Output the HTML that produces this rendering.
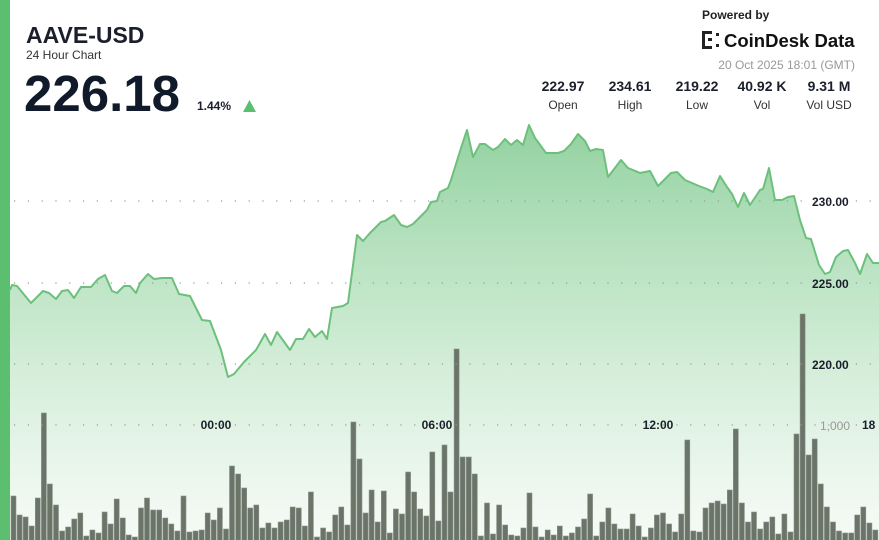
<!DOCTYPE html>
<html><head><meta charset="utf-8"><style>
html,body{margin:0;padding:0;width:879px;height:540px;overflow:hidden;background:#fff;font-family:"Liberation Sans",sans-serif}
svg{position:absolute;left:0;top:0}
</style></head><body>
<svg id="s" width="879" height="540" xmlns="http://www.w3.org/2000/svg">
<defs>
<linearGradient id="g" gradientUnits="userSpaceOnUse" x1="0" y1="125" x2="0" y2="540">
<stop offset="0" stop-color="#7fc98f" stop-opacity="0.85"/>
<stop offset="0.5" stop-color="#a8dcb2" stop-opacity="0.6"/>
<stop offset="1" stop-color="#e6f4e8" stop-opacity="0.4"/>
</linearGradient>
</defs>
<rect x="0" y="0" width="10" height="540" fill="#5cbf6f"/>
<path id="area" fill="url(#g)" d=""/>
<g id="bars" fill="#6a7468" stroke="#8a9487" stroke-width="0.6"></g>
<g stroke="#999" stroke-width="1.2" stroke-dasharray="1.2 12.6" fill="none">
<line x1="14" y1="201" x2="879" y2="201"/>
<line x1="14" y1="283" x2="879" y2="283"/>
<line x1="14" y1="364" x2="879" y2="364"/>
<line x1="14" y1="425" x2="879" y2="425"/>
</g>
<path id="line" fill="none" stroke="#6cc07c" stroke-width="2" stroke-linejoin="round" d=""/>
<g font-weight="bold" font-size="12" fill="#1a1f2b">
<text x="812" y="206">230.00</text>
<text x="812" y="288">225.00</text>
<text x="812" y="369">220.00</text>
<text x="216" y="429" text-anchor="middle">00:00</text>
<text x="437" y="429" text-anchor="middle">06:00</text>
<text x="658" y="429" text-anchor="middle">12:00</text>
<text x="862" y="429">18</text>
</g>
<text x="820" y="430" font-size="12" fill="#999">1,000</text>
<text x="26" y="43" font-size="23" font-weight="bold" fill="#1a1f2b">AAVE-USD</text>
<text x="26" y="59" font-size="12" fill="#333">24 Hour Chart</text>
<text x="24" y="111" font-size="51" font-weight="bold" fill="#111a2a">226.18</text>
<text x="197" y="110" font-size="12" font-weight="bold" fill="#1a1f2b">1.44%</text>
<polygon points="243,112 256,112 249.5,100" fill="#5cbf6f"/>
<text x="702" y="19" font-size="12" font-weight="bold" fill="#222">Powered by</text>
<g fill="#222"><rect x="702" y="31" width="3" height="18"/><rect x="702" y="31" width="10" height="3"/><rect x="702" y="46" width="10" height="3"/><rect x="708" y="38" width="4" height="3"/><rect x="716" y="33" width="3" height="3"/><rect x="716" y="44" width="3" height="3"/></g>
<text x="724" y="47" font-size="18.5" font-weight="bold" fill="#111">CoinDesk Data</text>
<text x="855" y="69" font-size="12" fill="#999" text-anchor="end">20 Oct 2025 18:01 (GMT)</text>
<g font-size="14" font-weight="bold" fill="#1a1f2b" text-anchor="middle">
<text x="563" y="91">222.97</text><text x="630" y="91">234.61</text><text x="697" y="91">219.22</text><text x="762" y="91">40.92 K</text><text x="829" y="91">9.31 M</text>
</g>
<g font-size="12" fill="#333" text-anchor="middle">
<text x="563" y="109">Open</text><text x="630" y="109">High</text><text x="697" y="109">Low</text><text x="762" y="109">Vol</text><text x="829" y="109">Vol USD</text>
</g>
</svg>
<script>
var p=[[10,290],[12,285],[17,286],[31,303],[43,291],[49,293],[56,299],[62,291],[68,290],[74,298],[81,287],[91,287],[98,279],[105,275],[112,291],[117,293],[124,286],[130,286],[136,293],[140,283],[148,274],[154,279],[162,278],[172,278],[179,294],[190,296],[202,320],[210,321],[221,350],[228,377],[234,374],[244,362],[256,350],[265,334],[271,345],[277,332],[290,350],[296,339],[303,339],[309,329],[315,337],[322,331],[327,339],[332,308],[343,306],[348,303],[357,235],[363,241],[370,233],[381,222],[385,221],[394,215],[401,225],[407,227],[413,224],[420,217],[427,210],[431,202],[437,201],[440,192],[448,188],[451,180],[461,148],[467,130],[473,157],[480,144],[485,144],[493,150],[498,147],[505,139],[511,145],[517,140],[523,145],[529,125],[535,138],[546,153],[558,153],[564,151],[571,144],[578,134],[585,141],[590,151],[596,149],[603,150],[608,177],[621,160],[628,168],[633,170],[640,173],[650,171],[658,186],[671,173],[677,172],[685,180],[699,186],[707,189],[713,192],[720,176],[727,187],[732,194],[738,207],[744,193],[750,205],[754,199],[760,190],[763,189],[769,168],[775,200],[782,200],[788,197],[794,196],[800,220],[806,238],[811,239],[819,265],[825,274],[830,272],[836,257],[843,251],[848,250],[855,263],[860,274],[867,254],[873,263],[879,263]];
var d="M"+p.map(function(a){return a[0]+","+a[1]}).join(" L");
document.getElementById("line").setAttribute("d",d);
document.getElementById("area").setAttribute("d",d+" L879,540 L10,540 Z");
var t=[496,515,517,526,498,413,484,505,531,527,519,513,536,530,533,512,524,499,518,535,537,508,498,510,510,518,524,531,496,532,531,530,513,520,508,529,466,474,488,508,505,528,523,528,522,520,507,508,526,492,537,528,532,515,507,525,422,459,513,490,522,491,533,509,514,472,492,509,516,452,521,445,492,349,457,457,474,536,503,534,505,525,535,536,528,493,527,537,530,535,526,536,533,527,519,494,536,522,508,524,529,529,514,526,537,528,515,513,524,532,514,440,531,532,508,503,501,504,490,429,503,522,512,529,522,517,534,514,532,434,314,455,439,484,507,522,531,533,533,515,507,523,530];
var g=document.getElementById("bars"),h="";
var pitch=6.07;
for(var i=0;i<t.length;i++){var x=11+i*pitch;h+='<rect x="'+x.toFixed(1)+'" y="'+t[i]+'" width="5" height="'+(541-t[i])+'"/>';}
g.innerHTML=h;
</script>
</body></html>
